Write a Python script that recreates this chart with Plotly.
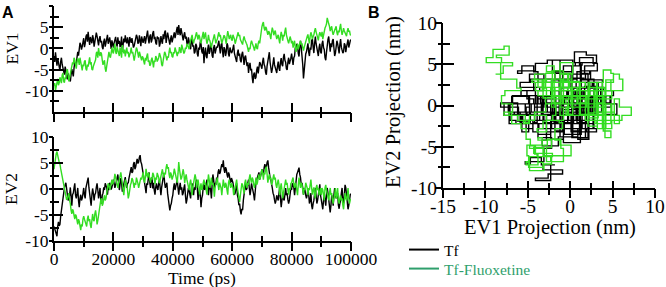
import plotly.graph_objects as go

time_ps = list(range(0, 100001, 250))

tf_ev1 = [
    -1.8, -3.2, -0.9, -2.6, -4.1, -2.3, -3.4, -4.7, -5.3, -3.1, -2.2, -3.8, -4.4, -5.6, -6.2, -4.3, -5.1, -6.8, -7.3, -5.9,
    -6.4, -7.1, -7.8, -6.2, -4.9, -5.7, -6.6, -4.6, -3.3, -3.9, -3.6, -2.1, -0.8, -1.7, 0.2, 1.3, 0.9, -0.3, 0.4, 1.8,
    2.4, 0.3, 1.1, 2.8, 3.3, 1.6, 3.9, 2.2, 0.8, 2.7, 1.9, 1.2, 3.1, 2.3, 0.4, 1.4, 2.1, 3.7, 2.9, 1.3,
    0.7, 2.2, 2.9, 1.4, 1.8, 0.3, -0.2, 1.6, 2.3, 0.4, 1.2, 2.8, 3.2, 1.1, 1.7, 2.6, 1.3, -0.1, 1.9, 0.8,
    0.2, 1.3, 2.1, 2.7, 1.2, 0.4, 2.6, 1.1, 1.8, 0.3, 0.9, 2.8, -0.8, 1.2, 2.3, 1.4, 3.1, 1.7, 1.2, 2.6,
    1.8, 0.4, 2.7, 2.1, 1.3, 2.4, 1.6, 0.2, 0.6, 1.2, 2.3, 3.2, 2.7, 1.1, 1.4, 3.1, 1.9, 0.5, 2.8, 1.7,
    1.3, 2.2, 2.9, 1.1, 2.4, 3.7, 4.2, 2.3, 1.2, 2.8, 3.3, 1.4, 2.1, 3.6, 4.1, 2.2, 2.7, 1.3, 0.9, 2.8,
    2.3, 2.6, 0.4, 1.2, 2.9, 1.8, 1.1, 3.3, 2.2, 3.8, 4.2, 1.3, 2.1, 3.7, 2.8, 1.2, 0.9, 2.2, 3.1, 1.4,
    2.2, 3.1, 3.8, 2.4, 3.3, 4.7, 5.1, 3.2, 5.5, 3.9, 3.1, 4.8, 3.7, 2.2, 1.9, 3.1, 3.8, 2.3, 2.8, 1.2,
    0.8, 2.6, 1.7, 0.3, -0.2, 1.9, 2.2, 0.4, 0.7, -1.2, -0.8, 1.1, 0.6, -1.3, -1.9, 0.2, -0.3, 1.6, 1.1, -0.7,
    -1.2, 0.3, -3.5, -1.1, 0.2, -1.8, -2.3, -0.2, 0.9, -1.3, -0.7, 1.2, 0.3, -1.7, -2.2, 0.1, 0.8, -1.2, -0.6, 0.4,
    0.2, 1.3, 1.8, 0.1, -1.2, 0.8, 1.3, -0.8, -2.1, 0.3, -0.2, -1.8, -0.9, 1.2, 0.7, -1.3, -1.9, 0.2, -0.4, -1.1,
    -0.8, 0.3, 0.9, -1.2, -2.1, -2.7, -3.2, -1.1, -0.3, -1.8, -1.2, -2.8, -3.3, -1.4, -0.8, -2.3, -3.9, -2.1, -1.7, -3.1,
    -4.2, -3.3, -5.8, -4.1, -3.4, -5.2, -4.8, -6.9, -8.2, -6.1, -5.7, -7.2, -6.8, -5.1, -4.3, -5.9, -4.7, -3.2, -3.6, -4.3,
    -4.8, -3.1, -2.2, -3.8, -4.3, -5.7, -6.2, -4.1, -2.7, -1.2, -0.9, -3.2, -4.1, -5.8, -4.9, -3.3, -2.1, -3.9, -4.4, -5.2,
    -5.8, -4.2, -3.1, -4.7, -5.3, -3.2, -2.3, -3.8, -4.2, -2.1, -1.3, -2.8, -3.3, -4.8, -5.1, -3.2, -2.2, -3.7, -3.1, -2.3,
    -1.2, -2.8, -3.9, -2.2, -1.8, 0.2, -0.3, 1.1, 0.8, -1.2, -1.9, 0.3, 1.8, 0.2, -1.3, -3.8, -7.1, -4.2, -2.7, -1.3,
    -0.8, 0.3, 1.2, -0.9, -1.8, 0.2, -0.3, 1.8, 2.2, 0.3, -1.1, 1.2, 2.8, 1.1, 0.2, -1.2, -1.8, 0.2, 1.1, -0.8,
    -1.2, 1.1, 1.8, 0.2, -0.3, -2.2, -2.8, -0.9, 1.2, 2.1, 2.8, 1.1, -0.8, 1.2, 0.3, 1.8, 2.2, 0.1, -1.8, -1.1,
    0.2, 1.8, 1.1, -0.8, -1.2, 0.9, 2.2, 0.3, -0.2, -1.1, -0.8, 1.2, 0.8, -0.9, 0.3, 1.9, 2.1, 0.2, 1.2, 1.8,
    2.1,
]

fx_ev1 = [
    -8.8, -8.2, -9.9, -9.1, -7.8, -7.2, -8.7, -8.1, -6.8, -7.9, -8.2, -6.3, -5.8, -7.7, -8.1, -6.8, -7.2, -5.3, -4.9, -6.2,
    -7.8, -6.9, -5.8, -5.2, -4.7, -3.3, -3.8, -2.2, -2.8, -4.1, -4.8, -3.2, -2.3, -2.8, -3.9, -2.2, -3.1, -4.8, -5.2, -3.8,
    -4.2, -3.1, -2.8, -4.8, -5.2, -3.8, -4.3, -3.2, -2.1, -3.8, -3.2, -4.9, -5.1, -4.2, -3.8, -3.1, -2.7, -1.1, -0.8, -2.2,
    0.1, -1.2, -1.8, -0.9, -1.3, -2.8, -3.9, -3.2, -2.8, -4.8, -5.5, -4.2, -2.9, -2.2, -0.8, -1.8, -2.2, -1.1, 0.2, -0.8,
    -1.2, 0.2, 1.1, -0.8, -1.3, 0.3, -0.2, -1.1, -1.8, 0.2, -0.9, -2.2, 0.8, 0.1, -1.2, -0.3, -1.9, -0.8, 0.2, -1.2,
    -0.8, -2.1, -1.7, -0.9, 0.2, -1.2, -0.8, -2.2, -2.9, -1.8, -1.1, 0.2, -0.3, -1.2, -2.2, -0.8, -1.3, -2.1, -2.8, -1.9,
    -2.2, -3.1, -3.8, -2.2, -2.9, -1.8, -1.2, -3.2, -2.8, -4.1, -3.8, -2.8, -2.2, -3.3, -4.5, -2.9, -3.2, -1.8, -2.2, -3.1,
    -2.8, -2.2, -1.1, -1.8, -2.3, -3.8, -4.2, -2.9, -2.1, -0.8, -1.2, -2.1, -2.8, -1.9, -2.2, -0.8, 0.2, -1.1, -0.8, -1.9,
    -2.1, -0.9, -1.2, 0.2, -0.3, -1.1, -1.8, -0.8, -1.2, 0.3, -0.2, -1.1, 0.9, 0.2, -0.3, -1.2, -0.8, 0.2, -0.1, 1.1,
    0.8, 0.2, -0.2, 1.2, 1.8, 2.9, 3.2, 1.8, 1.2, 2.1, 2.3, 3.2, 3.8, 2.8, 2.1, 3.2, 2.8, 1.8, 1.2, 2.2,
    2.8, 3.9, 2.2, 3.1, 3.8, 2.2, 1.1, 1.8, 3.2, 2.1, 1.8, 0.9, 0.2, 1.2, 2.1, 2.8, 3.3, 2.2, 1.2, 1.8,
    2.2, 3.1, 3.8, 2.8, 3.2, 2.1, 1.2, 1.8, 2.3, 3.1, 2.8, 1.9, 1.1, 2.8, 4.1, 3.2, 2.2, 2.8, 3.2, 2.1,
    1.8, 3.2, 2.8, 2.2, 1.1, 1.8, 2.3, 3.1, 3.8, 2.9, 3.2, 2.1, 1.8, 1.2, 0.9, 2.2, 2.8, 2.1, 1.8, 1.2,
    0.8, 0.2, -0.8, 0.2, -0.2, 1.1, 1.8, 1.2, 0.8, 0.2, -0.5, 0.3, 1.2, 0.1, -0.2, 1.1, 1.8, 1.2, 2.8, 4.2,
    5.1, 5.8, 6.2, 4.8, 4.2, 5.1, 4.8, 3.9, 3.2, 4.1, 3.8, 3.1, 2.2, 3.8, 4.9, 4.2, 3.1, 3.8, 4.2, 3.1,
    2.2, 2.8, 3.2, 2.1, 1.2, 2.8, 3.9, 3.1, 1.8, 3.2, 2.8, 4.1, 4.9, 3.2, 2.1, 1.8, 1.2, 2.2, 2.8, 2.1,
    1.2, 1.8, 0.2, 1.1, 1.8, 0.3, -0.8, 0.2, 1.1, -0.2, 0.3, 1.2, 1.8, 0.9, 1.2, 0.2, -0.5, 0.3, 1.2, 1.8,
    2.2, 2.8, 3.3, 2.1, 1.2, 2.9, 3.8, 3.2, 2.2, 2.8, 3.2, 4.1, 4.8, 3.9, 3.1, 2.2, 1.9, 3.1, 3.8, 3.2,
    2.8, 3.9, 2.2, 3.1, 4.2, 4.8, 5.2, 5.8, 7.2, 6.1, 5.8, 5.2, 4.1, 4.8, 5.2, 3.9, 3.2, 3.8, 4.2, 4.9,
    5.2, 3.8, 3.1, 4.2, 3.8, 4.9, 5.8, 4.2, 3.2, 3.9, 4.8, 4.1, 3.8, 3.2, 2.9, 4.1, 4.8, 3.9, 4.2, 3.2,
    3.1,
]

tf_ev2 = [
    -7.2, -7.8, -8.3, -8.8, -9.1, -7.2, -6.3, -7.1, -6.8, -5.2, -3.9, -3.2, -1.8, -1.2, 0.2, 0.8, 1.2, 0.1, -0.8, -2.2,
    -1.8, -1.2, 0.3, -1.9, -3.2, -1.1, -0.8, 0.2, 1.1, -1.2, -1.8, -0.9, 0.2, -2.2, -3.5, -1.8, -1.1, -2.2, -1.8, -0.9,
    0.2, -1.1, -1.8, 0.2, 1.2, 1.8, 2.2, 0.3, -1.2, -2.8, -3.2, -1.2, 0.1, -0.8, -2.2, -1.1, -0.8, 0.3, 1.1, -0.2,
    -1.8, -0.9, 0.2, -2.1, -2.8, -1.2, -0.8, 0.3, -0.2, 1.1, 0.8, 0.2, -1.1, 0.3, -0.2, 1.2, 0.8, -0.1, 0.3, 1.2,
    1.8, 1.1, 0.2, 0.8, 1.3, 2.2, 2.8, 1.2, -0.2, 0.9, 2.1, 1.2, -0.5, 0.3, 1.2, 1.8, 2.3, 0.9, 0.2, 1.1,
    1.2, 2.1, 2.8, 3.9, 4.2, 3.1, 3.3, 4.8, 5.2, 3.8, 4.2, 5.1, 5.8, 4.9, 5.2, 6.1, 6.5, 5.2, 4.8, 3.9,
    3.1, 2.2, 1.8, 0.2, -0.8, 1.1, 0.8, 2.8, 3.2, 1.2, 0.2, 1.8, 2.2, 0.1, 1.2, -0.2, -1.1, 0.3, 1.1, 0.2,
    -0.2, 1.1, 1.8, 0.2, -1.2, 0.3, 1.2, 2.8, 3.1, 1.2, 0.2, 0.8, 1.2, -0.8, -2.2, -2.8, -4.1, -3.2, -2.8, -1.8,
    -1.2, 0.2, 1.1, -0.2, 0.3, 1.2, 1.8, 0.2, -1.1, 0.3, 1.2, -0.2, 0.3, -1.2, -0.8, 0.2, 0.9, -1.2, -2.8, -2.1,
    -0.8, 0.2, -0.3, -1.2, -1.8, 0.2, 1.1, -0.2, -1.2, 0.3, -0.2, 1.2, 1.8, 0.2, -2.1, -0.9, 0.2, -1.2, -3.5, -1.8,
    -1.2, 0.3, 1.2, -0.2, 0.2, 1.1, 1.8, 0.3, -1.2, 0.2, 1.1, -0.3, -1.8, 0.8, 2.8, 1.8, 0.2, 1.2, 0.8, 2.2,
    1.8, 3.2, 3.8, 2.9, 3.2, 4.1, 4.8, 4.2, 5.5, 3.8, 3.1, 4.2, 3.8, 2.8, 2.2, 3.2, 2.8, 1.8, 1.2, 2.1,
    1.8, 1.2, 0.2, -1.1, -0.8, 0.2, 1.1, -1.2, -1.8, -3.1, -2.8, -4.2, -4.9, -3.8, -4.1, -2.2, -0.8, 0.2, 1.2, -0.2,
    0.2, 1.2, 1.8, 0.2, -1.2, -0.2, 1.1, 0.3, -0.2, -1.1, -2.2, 0.2, 1.2, 1.8, 2.2, 2.8, 3.2, 1.8, 2.2, 2.9,
    3.8, 3.2, 2.8, 4.1, 4.8, 3.9, 4.2, 5.1, 5.5, 4.2, 2.8, 2.2, 1.8, 1.2, 0.2, -0.8, -1.2, -2.1, -2.8, -2.2,
    -1.2, -1.8, -2.2, -0.8, 0.2, -1.8, -3.5, -2.2, -0.8, -1.9, -2.2, -1.1, 0.2, -1.2, -0.8, -2.1, -2.8, -2.2, -1.1, 0.2,
    -0.2, 1.1, 0.8, 0.2, -1.2, 0.8, 2.2, 2.8, 3.2, 3.9, 4.1, 2.8, 2.2, 0.8, 1.2, 0.2, -1.1, 0.2, -0.2, -1.2,
    -1.8, -1.2, 0.2, -1.1, -2.8, -2.2, -0.8, -3.2, -3.9, -2.8, -2.2, -0.9, 0.2, -1.2, -2.8, -2.2, -0.8, 0.2, 0.9, -1.2,
    -2.2, -2.8, -3.9, -2.2, -0.8, -2.1, -3.2, -1.2, 0.2, -0.8, -2.2, -2.8, -4.5, -3.1, -1.2, -1.8, -3.2, -1.1, 0.2, -1.2,
    -1.8, -1.2, -0.8, -3.1, -3.8, -2.8, -2.2, -0.8, 0.2, -2.2, -2.8, -1.1, 0.8, 0.2, -1.2, -2.2, -3.9, -3.2, -1.8, -1.1,
    -0.9,
]

fx_ev2 = [
    3.8, 5.2, 5.8, 6.8, 7.2, 6.1, 5.8, 5.2, 4.8, 3.9, 3.2, 2.1, 1.8, 1.2, 0.2, -0.8, -1.2, -2.1, -1.8, -1.2,
    -0.8, -2.2, -2.8, -4.1, -4.8, -3.9, -4.2, -5.1, -5.8, -4.9, -5.2, -6.1, -6.8, -5.8, -6.2, -7.1, -7.9, -6.8, -7.2, -5.8,
    -5.2, -5.8, -6.2, -6.9, -7.2, -5.8, -5.1, -6.2, -5.8, -6.9, -7.5, -6.1, -4.8, -5.9, -6.2, -4.8, -4.1, -5.2, -6.8, -6.1,
    -4.8, -4.2, -2.8, -2.1, -1.8, -3.2, -2.8, -1.9, -1.2, -2.2, -1.8, -0.8, 0.2, 1.1, 0.8, -0.2, 0.3, 1.2, 1.8, 0.9,
    1.2, 1.8, 2.9, 2.2, 1.8, 1.1, 0.2, 1.2, 1.8, 2.8, 3.2, 2.2, 0.8, 0.2, -1.2, 0.2, 1.8, 1.2, 0.8, -0.2,
    -1.8, -1.2, 0.2, 0.8, 1.2, 2.1, 1.8, 0.9, 0.2, 1.2, 0.8, 2.2, 1.8, 1.1, 0.2, 0.8, 1.2, 2.2, 1.8, 2.9,
    3.2, 1.8, 1.2, 2.2, 3.9, 2.8, 2.2, 3.1, 2.8, 1.8, 1.2, 2.2, 1.8, 3.1, 2.8, 2.1, 0.9, 2.2, 1.8, 3.1,
    2.8, 2.2, 1.1, 1.8, 2.2, 3.2, 3.8, 2.8, 2.2, 3.1, 2.8, 4.1, 4.8, 3.9, 4.2, 2.8, 2.1, 3.2, 2.8, 1.8,
    2.2, 2.8, 3.9, 3.2, 2.8, 1.8, 1.2, 2.9, 5.2, 3.8, 3.1, 1.8, 2.2, 3.2, 3.8, 2.8, 1.1, 2.2, 2.8, 1.8,
    1.2, 0.2, -0.2, 1.1, 1.8, 0.8, -1.2, 0.3, 1.2, 1.8, 2.8, 2.1, 0.2, 1.2, 1.8, 0.8, -1.1, 0.2, 1.1, -0.2,
    0.2, 1.2, 1.8, 0.8, 1.2, -0.2, -1.1, 1.2, 2.8, 1.8, 0.2, 1.1, 2.2, 0.8, 1.2, 0.2, -1.5, 0.3, 1.2, 1.8,
    2.2, 0.8, -0.2, 1.2, 0.8, 0.2, -1.2, 1.1, 1.8, 0.8, 0.2, 1.2, 0.8, -0.2, -1.1, 1.2, 1.8, 0.9, 0.2, 1.1,
    0.8, 0.2, -1.2, -0.2, 0.3, 1.2, 1.8, 0.2, -1.1, -1.8, -2.5, -1.2, 0.2, 1.1, 0.8, -0.2, -0.9, 1.2, 1.8, 0.8,
    0.2, 1.2, 0.8, 2.1, 2.8, 1.8, 1.2, 2.2, 1.8, 0.8, 0.2, 1.2, 2.2, 0.8, 1.2, 2.2, 2.8, 1.8, 2.2, 3.1,
    3.8, 3.2, 1.8, 3.1, 2.8, 3.9, 4.3, 2.8, 1.2, 2.2, 2.8, 1.8, 2.2, 0.8, 1.2, 2.1, 2.8, 1.8, 2.2, 0.8,
    0.2, 1.2, 1.8, 0.8, -1.2, 0.2, 1.1, -0.2, -1.8, -0.8, 0.2, 1.2, 1.8, 0.8, 1.2, -0.2, -1.1, 0.2, -0.2, 1.1,
    1.2, 1.8, 2.2, 0.8, 0.2, 1.2, 0.8, -0.2, -1.2, 0.8, 2.2, 1.1, 0.2, 1.2, 0.8, -0.2, -1.1, 0.2, -0.2, 1.2,
    0.8, 0.2, -1.2, 0.2, -0.2, 1.1, 1.8, 0.2, -1.1, -0.2, 0.3, -1.2, -1.8, 0.2, 0.8, -0.2, 0.2, -1.2, -0.8, 0.2,
    -1.2, 0.2, -0.2, -1.1, -2.2, 0.2, 0.8, -0.2, -1.2, -1.8, -2.2, -0.8, 0.2, -1.2, -0.8, -2.2, -2.8, -1.8, -1.2, 0.2,
    -1.8, -1.2, 0.2, -2.2, -2.8, -1.8, -1.2, -2.2, -1.8, -3.1, -3.9, -2.2, -0.8, -1.8, -2.2, -1.2, 0.2, -1.8, -2.8, -2.1,
    -1.9,
]

assert len(tf_ev1) == len(fx_ev1) == len(tf_ev2) == len(fx_ev2) == len(time_ps), (
    len(tf_ev1), len(fx_ev1), len(tf_ev2), len(fx_ev2), len(time_ps))

series_names = ["Tf", "Tf-Fluoxetine"]

time_ticks = [0, 20000, 40000, 60000, 80000, 100000]
time_minor = [10000, 30000, 50000, 70000, 90000]
ev_ticks = [-10, -5, 0, 5, 10]
ev_minor_top = [-12.5, -7.5, -2.5, 2.5, 7.5]
ev_minor = [-7.5, -2.5, 2.5, 7.5]
proj_x_ticks = [-15, -10, -5, 0, 5, 10]
proj_x_minor = [-12.5, -7.5, -2.5, 2.5, 7.5]

# ---------------- styling ----------------
W, H = 666, 287
def fx(p):
    return p / W
def fy(p):
    return 1 - p / H

BLACK = "#000000"
GREEN = "#33dd22"
LEG_GREEN = "#2f9f6c"
SERIF = "Liberation Serif"
LW = 1.4

fig = go.Figure()

# Panel A top (EV1)
fig.add_trace(go.Scatter(x=time_ps, y=tf_ev1, xaxis="x", yaxis="y", mode="lines",
                         line=dict(color=BLACK, width=LW), showlegend=False))
fig.add_trace(go.Scatter(x=time_ps, y=fx_ev1, xaxis="x", yaxis="y", mode="lines",
                         line=dict(color=GREEN, width=LW), showlegend=False))
# Panel A bottom (EV2)
fig.add_trace(go.Scatter(x=time_ps, y=tf_ev2, xaxis="x2", yaxis="y2", mode="lines",
                         line=dict(color=BLACK, width=LW), showlegend=False))
fig.add_trace(go.Scatter(x=time_ps, y=fx_ev2, xaxis="x2", yaxis="y2", mode="lines",
                         line=dict(color=GREEN, width=LW), showlegend=False))
# Panel B (EV1 vs EV2 projection)
fig.add_trace(go.Scatter(x=tf_ev1, y=tf_ev2, xaxis="x3", yaxis="y3", mode="lines",
                         line=dict(color=BLACK, width=LW, shape="hv"), showlegend=False))
fig.add_trace(go.Scatter(x=fx_ev1, y=fx_ev2, xaxis="x3", yaxis="y3", mode="lines",
                         line=dict(color=GREEN, width=LW, shape="hv"), showlegend=False))

# legend entries
fig.add_trace(go.Scatter(x=[None], y=[None], xaxis="x3", yaxis="y3", mode="lines",
                         name=series_names[0], line=dict(color=BLACK, width=2),
                         legend="legend"))
fig.add_trace(go.Scatter(x=[None], y=[None], xaxis="x3", yaxis="y3", mode="lines",
                         name=series_names[1], line=dict(color=LEG_GREEN, width=2),
                         legend="legend2"))

# empty traces for the overlay axes that draw the outer half of crossing ticks
for k in (4, 5, 6):
    fig.add_trace(go.Scatter(x=[], y=[], xaxis=f"x{k}", yaxis=f"y{k}",
                             mode="lines", showlegend=False, hoverinfo="skip"))


def main_axis(**kw):
    d = dict(showgrid=False, zeroline=False, showline=True, linewidth=2,
             linecolor=BLACK, ticks="inside", tickwidth=2, tickcolor=BLACK,
             mirror=False, fixedrange=True, automargin=False)
    d.update(kw)
    return d


def outer_axis(**kw):
    d = dict(showgrid=False, zeroline=False, showline=False, ticks="outside",
             tickwidth=2, tickcolor=BLACK, showticklabels=False, fixedrange=True,
             automargin=False)
    d.update(kw)
    return d


def mnr(vals, ticks, ln):
    return dict(tickvals=vals, ticks=ticks, ticklen=ln, tickwidth=2, tickcolor=BLACK)


fontA = dict(family=SERIF, size=17.5, color=BLACK)
fontB = dict(family=SERIF, size=19.5, color=BLACK)
fontBt = dict(family=SERIF, size=20.5, color=BLACK)

xdomA = [fx(54), fx(351)]

layout = dict(
    width=W, height=H, autosize=False,
    margin=dict(l=0, r=0, t=0, b=0, autoexpand=False),
    paper_bgcolor="white", plot_bgcolor="rgba(0,0,0,0)",
    # Panel A top
    xaxis=main_axis(domain=xdomA, anchor="y", range=[0, 100000],
                    tickvals=time_ticks, showticklabels=False, ticklen=9,
                    minor=mnr(time_minor, "inside", 5)),
    yaxis=main_axis(domain=[fy(112), fy(6)], anchor="x", range=[-15, 10],
                    tickvals=ev_ticks, ticktext=[str(v) for v in ev_ticks],
                    ticklen=9, tickfont=fontA, ticklabelstandoff=0,
                    minor=mnr(ev_minor_top, "inside", 5)),
    # Panel A bottom
    xaxis2=main_axis(domain=xdomA, anchor="y2", range=[0, 100000],
                     tickvals=time_ticks, ticktext=[str(v) for v in time_ticks],
                     ticklen=9, tickfont=fontA, ticklabelstandoff=1,
                     minor=mnr(time_minor, "inside", 5)),
    yaxis2=main_axis(domain=[fy(241), fy(137)], anchor="x2", range=[-10, 10],
                     tickvals=ev_ticks, ticktext=[str(v) for v in ev_ticks],
                     ticklen=9, tickfont=fontA, ticklabelstandoff=0,
                     minor=mnr(ev_minor, "inside", 5)),
    # Panel B
    xaxis3=main_axis(domain=[fx(443), fx(655)], anchor="y3", range=[-15, 10],
                     tickvals=proj_x_ticks, ticktext=[str(v) for v in proj_x_ticks],
                     ticklen=7, tickfont=fontB, ticklabelstandoff=0,
                     minor=mnr(proj_x_minor, "inside", 5)),
    yaxis3=main_axis(domain=[fy(188), fy(23)], anchor="x3", range=[-10, 10],
                     tickvals=ev_ticks, ticktext=[str(v) for v in ev_ticks],
                     ticklen=11, tickfont=fontB, ticklabelstandoff=0,
                     minor=mnr(ev_minor, "inside", 7)),
    # outer halves of the crossing ticks
    xaxis4=outer_axis(overlaying="x", anchor="y4", range=[0, 100000],
                      tickvals=time_ticks, ticklen=9, minor=mnr(time_minor, "outside", 5)),
    yaxis4=outer_axis(overlaying="y", anchor="x4", range=[-15, 10],
                      tickvals=ev_ticks, ticklen=4, minor=mnr(ev_minor_top, "outside", 3)),
    xaxis5=outer_axis(overlaying="x2", anchor="y5", range=[0, 100000],
                      tickvals=time_ticks, ticklen=9, minor=mnr(time_minor, "outside", 5)),
    yaxis5=outer_axis(overlaying="y2", anchor="x5", range=[-10, 10],
                      tickvals=ev_ticks, ticklen=4, minor=mnr(ev_minor, "outside", 3)),
    xaxis6=outer_axis(overlaying="x3", anchor="y6", range=[-15, 10],
                      tickvals=proj_x_ticks, ticklen=9, minor=mnr(proj_x_minor, "outside", 6)),
    yaxis6=outer_axis(overlaying="y3", anchor="x6", range=[-10, 10],
                      tickvals=ev_ticks, ticklen=7, minor=mnr(ev_minor, "outside", 4)),
    legend=dict(x=fx(404), y=fy(250), xanchor="left", yanchor="middle",
                bgcolor="rgba(0,0,0,0)", borderwidth=0, itemwidth=30,
                font=dict(family=SERIF, size=15.5, color=BLACK),
                itemclick=False, itemdoubleclick=False),
    legend2=dict(x=fx(404), y=fy(269), xanchor="left", yanchor="middle",
                 bgcolor="rgba(0,0,0,0)", borderwidth=0, itemwidth=30,
                 font=dict(family=SERIF, size=15.5, color=LEG_GREEN),
                 itemclick=False, itemdoubleclick=False),
    showlegend=True,
)
fig.update_layout(**layout)


def ann(text, x, y, font, angle=0):
    fig.add_annotation(text=text, x=fx(x), y=fy(y), xref="paper", yref="paper",
                       xanchor="center", yanchor="middle", showarrow=False,
                       textangle=angle, font=font)


ann("<b>A</b>", 8, 13, dict(family="Liberation Sans", size=16, color=BLACK))
ann("<b>B</b>", 374, 13, dict(family="Liberation Sans", size=16, color=BLACK))
ann("EV1", 11, 48.5, fontA, -90)
ann("EV2", 11, 189, fontA, -90)
ann("Time (ps)", 202, 277.5, fontA)
ann("EV2 Projection (nm)", 394, 102, fontBt, -90)
ann("EV1 Projection (nm)", 550, 227.5, fontBt)

fig.write_html("out.html", config=dict(displayModeBar=False, staticPlot=True),
               post_script="document.body.style.margin='0px';")
